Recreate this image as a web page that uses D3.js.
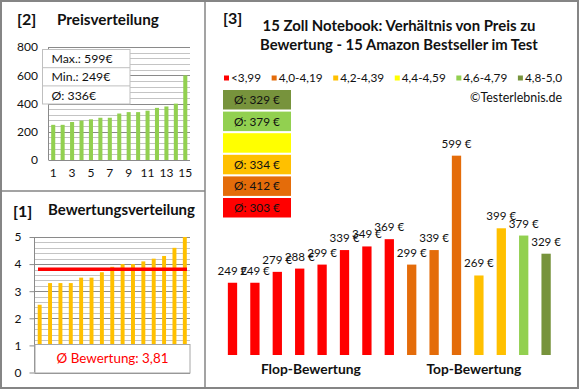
<!DOCTYPE html>
<html><head><meta charset="utf-8">
<script src="https://cdn.jsdelivr.net/npm/d3@7"></script>
<style>body{margin:0;background:#fff}svg{display:block;font-family:Lato,'Open Sans',sans-serif}</style>
</head><body><svg id="c" width="580" height="390"></svg>
<script>
// ---- data ----
const sortedPrices = [249,249,269,279,288,299,299,329,339,339,349,369,379,399,599];
const sortedRatings = [2.5,3.3,3.3,3.3,3.5,3.5,3.7,3.9,4.0,4.0,4.1,4.2,4.3,4.6,5.0];
const rankIndex = d3.range(1,16);
const priceTicks = [0,200,400,600,800];
const ratingTicks = [0,1,2,3,4,5];
const rankLabels = [1,3,5,7,9,11,13,15];
const barPrices = [249,249,279,288,299,339,349,369,299,339,599,269,399,379,329];
const barClass  = [0,0,0,0,0,0,0,0,1,1,1,2,2,4,5];
const barGroup  = [0,0,0,0,0,0,0,0,1,1,1,1,1,1,1];
const classLabels = ["<3,99","4,0-4,19","4,2-4,39","4,4-4,59","4,6-4,79","4,8-5,0"];
const classColors = ["#ff0000","#e46c0a","#ffc000","#ffff00","#92d050","#77933c"];
const groupNames = ["Flop-Bewertung","Top-Bewertung"];

const svg = d3.select("#c");
const txtCol = "#111";
function fit(sel, w){
  const L = sel.node().getComputedTextLength();
  const fs = parseFloat(sel.attr("font-size"));
  if (L>0) sel.attr("font-size", fs*w/L);
  return sel;
}
const deFmt = v => String(v).replace(".", ",");

// ---- panel borders ----
svg.append("rect").attr("x",1).attr("y",1).attr("width",577).attr("height",387)
  .attr("fill","none").attr("stroke","#858585").attr("stroke-width",2);
svg.append("line").attr("x1",205).attr("x2",205).attr("y1",1).attr("y2",388).attr("stroke","#858585").attr("stroke-width",1.5);
svg.append("line").attr("x1",1).attr("x2",205).attr("y1",191).attr("y2",191).attr("stroke","#858585").attr("stroke-width",1.5);

// ---- panel [2] Preisverteilung ----
const x2 = d3.scaleBand().domain(rankIndex).range([48.5,190]).paddingInner(0.57).paddingOuter(0.285);
const y2 = d3.scaleLinear().domain([0,800]).range([160,47]);
const g2 = svg.append("g");
g2.selectAll("line.mn").data(d3.range(0,801,40)).join("line")
  .attr("x1",48.5).attr("x2",190).attr("y1",d=>Math.round(y2(d))+0.5).attr("y2",d=>Math.round(y2(d))+0.5)
  .attr("stroke", d=> d%200===0 ? "#8a8a8a" : "#c4c4c4").attr("stroke-width",1);
g2.append("line").attr("x1",48.5).attr("x2",48.5).attr("y1",y2(800)).attr("y2",y2(0)).attr("stroke","#8a8a8a");
g2.selectAll("rect.b").data(sortedPrices).join("rect")
  .attr("x",(d,i)=>x2(rankIndex[i])).attr("width",x2.bandwidth())
  .attr("y",d=>y2(d)).attr("height",d=>y2(0)-y2(d)).attr("fill","#92d050");
const ax2 = g2.append("g").attr("transform","translate(38,0)")
  .call(d3.axisLeft(y2).tickValues(priceTicks).tickSize(0).tickPadding(0));
ax2.select(".domain").remove();
ax2.selectAll("text").attr("font-size",12).attr("fill",txtCol).attr("font-family","Lato");
const bx2 = g2.append("g").attr("transform","translate(0,168)")
  .call(d3.axisBottom(x2).tickValues(rankLabels).tickSize(0).tickPadding(0));
bx2.select(".domain").remove();
bx2.selectAll("text").attr("font-size",12).attr("fill",txtCol).attr("font-family","Lato");
// stats box
const pStats = [["Max.: ", d3.max(sortedPrices)],["Min.: ", d3.min(sortedPrices)],["Ø: ", Math.round(d3.mean(sortedPrices))]];
g2.append("rect").attr("x",42.5).attr("y",49.5).attr("width",87.5).attr("height",54.5).attr("fill","#fff").attr("stroke","#bfbfbf");
g2.selectAll("line.sd").data([1,2]).join("line").attr("x1",42.5).attr("x2",130)
  .attr("y1",d=>49.5+d*18.2).attr("y2",d=>49.5+d*18.2).attr("stroke","#bfbfbf");
g2.selectAll("text.st").data(pStats).join("text").attr("x",51.5).attr("y",(d,i)=>63+i*18.3)
  .attr("font-size",12.3).attr("fill",txtCol).text(d=>d[0]+d[1]+"€");
svg.append("text").attr("x",17).attr("y",25).attr("font-size",16).attr("font-weight","bold").attr("fill",txtCol).text("[2]");
fit(svg.append("text").attr("x",57).attr("y",24.5).attr("font-size",14).attr("font-weight","bold").attr("fill",txtCol).text("Preisverteilung"),102);

// ---- panel [1] Bewertungsverteilung ----
const x1 = d3.scaleBand().domain(rankIndex).range([34.5,190]).paddingInner(0.62).paddingOuter(0.31);
const y1 = d3.scaleLinear().domain([0,5]).range([372.5,237]);
const g1 = svg.append("g");
g1.selectAll("line.mn").data(d3.range(0,26).map(d=>d/5)).join("line")
  .attr("x1",34.5).attr("x2",190).attr("y1",d=>Math.round(y1(d))+0.5).attr("y2",d=>Math.round(y1(d))+0.5)
  .attr("stroke", (d,i)=> i%5===0 ? "#8a8a8a" : "#c4c4c4");
g1.append("line").attr("x1",34.5).attr("x2",34.5).attr("y1",y1(5)).attr("y2",y1(0)).attr("stroke","#8a8a8a");
const ax1 = g1.append("g").attr("transform","translate(34.5,0)")
  .call(d3.axisLeft(y1).tickValues(ratingTicks).tickFormat(d3.format("d")).tickSize(5).tickPadding(8));
ax1.select(".domain").remove();
ax1.selectAll("line").attr("stroke","#8a8a8a");
ax1.selectAll("text").attr("font-size",12).attr("fill",txtCol).attr("font-family","Lato");
g1.selectAll("rect.b").data(sortedRatings).join("rect")
  .attr("x",(d,i)=>x1(rankIndex[i])).attr("width",x1.bandwidth())
  .attr("y",d=>y1(d)).attr("height",d=>y1(0)-y1(d)).attr("fill","#ffc000");
const avgR = d3.mean(sortedRatings);
g1.append("line").attr("x1",38).attr("x2",187).attr("y1",y1(avgR)).attr("y2",y1(avgR))
  .attr("stroke","#ff0000").attr("stroke-width",3.5);
g1.append("rect").attr("x",35).attr("y",344.5).attr("width",155).attr("height",28.5).attr("fill","#fff").attr("stroke","#a6a6a6");
fit(g1.append("text").attr("x",112.5).attr("y",363).attr("text-anchor","middle").attr("font-size",14)
  .attr("fill","#ff0000").text("Ø Bewertung: "+deFmt(avgR.toFixed(2))),112);
svg.append("text").attr("x",13).attr("y",217).attr("font-size",16).attr("font-weight","bold").attr("fill",txtCol).text("[1]");
fit(svg.append("text").attr("x",48).attr("y",215).attr("font-size",14).attr("font-weight","bold").attr("fill",txtCol).text("Bewertungsverteilung"),147);

// ---- panel [3] ----
const x3 = d3.scaleBand().domain(d3.range(barPrices.length)).range([221.3,557.3]).paddingInner(0.585).paddingOuter(0.2925);
const y3 = d3.scaleLinear().domain([50,700]).range([355,119]);
const g3 = svg.append("g");
svg.append("text").attr("x",223).attr("y",24).attr("font-size",16).attr("font-weight","bold").attr("fill",txtCol).text("[3]");
fit(svg.append("text").attr("x",399).attr("y",30.5).attr("text-anchor","middle").attr("font-size",14).attr("font-weight","bold").attr("fill",txtCol)
  .text("15 Zoll Notebook: Verhältnis von Preis zu"),273);
fit(svg.append("text").attr("x",399).attr("y",50).attr("text-anchor","middle").attr("font-size",14).attr("font-weight","bold").attr("fill",txtCol)
  .text("Bewertung - 15 Amazon Bestseller im Test"),278);
// legend
const lg = g3.append("g");
const items = lg.selectAll("g").data(classLabels).join("g");
items.append("rect").attr("width",5).attr("height",5).attr("y",75.5).attr("fill",(d,i)=>classColors[i]);
items.append("text").attr("x",7).attr("y",82).attr("font-size",11.8).attr("fill",txtCol).text(d=>d);
const tw = items.nodes().map(n=>n.querySelector("text").getComputedTextLength());
const totalW = 562-224;
const gap = (totalW - d3.sum(tw) - 7*classLabels.length)/(classLabels.length-1);
let cx = 224;
items.each(function(d,i){ d3.select(this).attr("transform",`translate(${cx},0)`); cx += 7+tw[i]+gap; });
fit(g3.append("text").attr("x",562).attr("y",102).attr("text-anchor","end").attr("font-size",12).attr("fill",txtCol).text("©Testerlebnis.de"),92);
// average boxes (top: best class, bottom: worst)
const boxOrder = d3.range(classLabels.length).reverse();
boxOrder.forEach((c,k)=>{
  const vals = barPrices.filter((v,i)=>barClass[i]===c);
  const yy = 90 + k*21.6;
  g3.append("rect").attr("x",223).attr("y",yy).attr("width",68).attr("height",19.5).attr("fill",classColors[c]);
  if (vals.length) g3.append("text").attr("x",257).attr("y",yy+14).attr("text-anchor","middle").attr("font-size",11.8)
    .attr("fill",txtCol).text("Ø: "+Math.round(d3.mean(vals))+" €");
});
// bars
g3.selectAll("rect.bar").data(barPrices).join("rect").attr("class","bar")
  .attr("x",(d,i)=>x3(i)).attr("width",x3.bandwidth()).attr("y",d=>y3(d)).attr("height",d=>y3(50)-y3(d))
  .attr("fill",(d,i)=>classColors[barClass[i]]);
g3.selectAll("text.lab").data(barPrices).join("text").attr("class","lab")
  .attr("x",(d,i)=>x3(i)+x3.bandwidth()/2).attr("y",d=>y3(d)-8).attr("text-anchor","middle")
  .attr("font-size",11.6).attr("fill",txtCol).text(d=>d+" €");
groupNames.forEach((nm,gi)=>{
  const idx = d3.range(barPrices.length).filter(i=>barGroup[i]===gi);
  const c = (x3(idx[0]) + x3(idx[idx.length-1]) + x3.bandwidth())/2;
  fit(g3.append("text").attr("x",c - (gi===1?5:0)).attr("y",374).attr("text-anchor","middle").attr("font-size",14).attr("font-weight","bold")
    .attr("fill",txtCol).text(nm), gi===0?100:95);
});
</script></body></html>
